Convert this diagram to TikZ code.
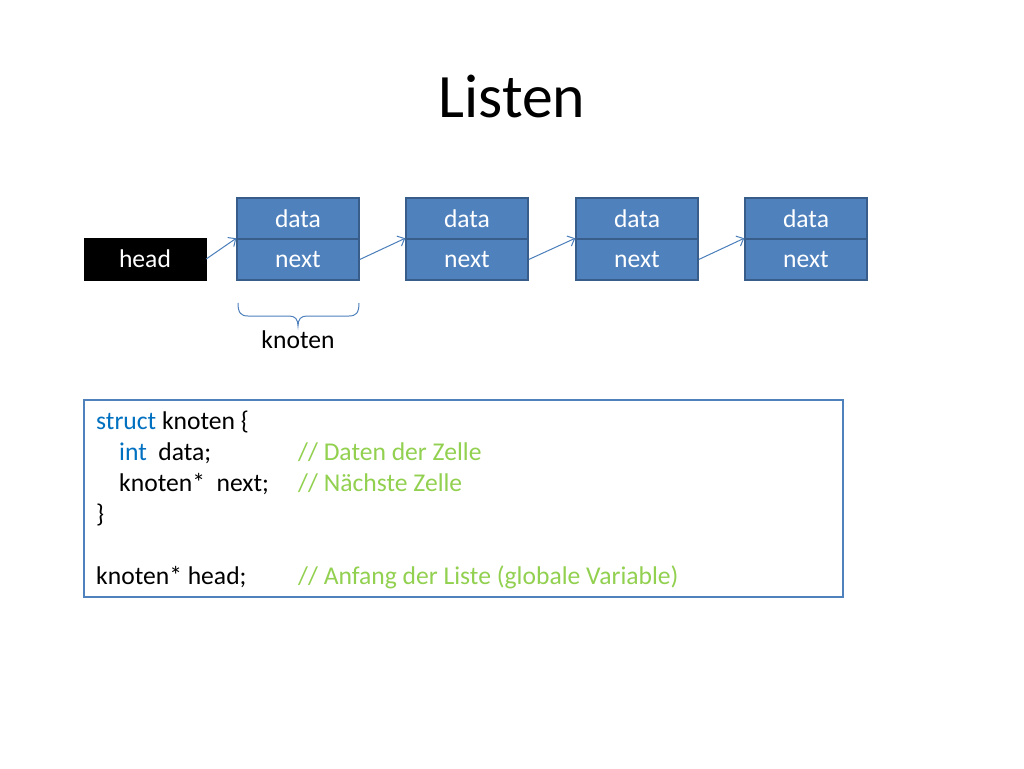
\documentclass[tikz,border=0pt]{standalone}
\usepackage{fontspec}
\setmainfont{Carlito}
\usetikzlibrary{positioning}
\usetikzlibrary{arrows.meta}
\definecolor{cellblue}{HTML}{4F81BD}
\definecolor{celledge}{HTML}{385D8A}
\definecolor{linkblue}{HTML}{4A7EBB}
\definecolor{keyblue}{HTML}{0070C0}
\definecolor{commentgreen}{HTML}{92D050}
\newcommand{\bodyfont}{\fontsize{25.6}{30}\selectfont}
\tikzset{
  cell/.style={draw=celledge, line width=1.5pt, fill=cellblue, text=white,
    minimum width=122pt, minimum height=41pt, inner sep=0pt, font=\bodyfont},
  link/.style={draw=linkblue, line width=1pt, -{Straight Barb[length=6pt,width=11pt]}},
  codeline/.style={anchor=base west, inner sep=0pt, font=\bodyfont}
}

\begin{document}
\begin{tikzpicture}[x=1pt,y=-1pt]
            \fill[white] (0,0) rectangle (1024,768);
            \useasboundingbox (0,0) rectangle (1024,768);
            % Title
            \node[font=\fontsize{61.7}{72}\selectfont, anchor=base] (title) at (512,117) {Listen};
            
            % List cells
            \node[draw=black, fill=black, text=white, minimum width=122pt, minimum height=42pt,
              inner sep=0pt, font=\bodyfont] (head) at (145,259) {head};
            \foreach \x [count=\i] in {298,467,637,806} {
              \node[cell] (d\i) at (\x,218.5) {data};
              \node[cell] (n\i) at (\x,259.5) {next};
            }
            
            \draw[link] (head.east) -- (n1.north west);
            \foreach \i/\j in {1/2,2/3,3/4}
              \draw[link] (n\i.east) -- (n\j.north west);
            
            % Brace under the first cell
            \draw[cellblue, line width=1pt]
              (238,303) .. controls (238,313) and (241,316) .. (248,316) -- (289,316)
              .. controls (295,316) and (298,319) .. (298,326)
              .. controls (298,319) and (301,316) .. (307,316) -- (349,316)
              .. controls (356,316) and (359,313) .. (359,303);
            \node[font=\bodyfont] (label) at (298,340) {knoten};
            
            % Code box
            \node[draw=cellblue, line width=2pt, minimum width=759pt, minimum height=197pt,
              inner sep=0pt] (code) at (463.5,498.5) {};
            \node[codeline] (l1) at (96,429) {\textcolor{keyblue}{struct} knoten \{};
            \node[codeline] (l2) at (119,460) {\textcolor{keyblue}{int}\ \ data;};
            \node[codeline, text=commentgreen] (c2) at (298,460) {// Daten der Zelle};
            \node[codeline] (l3) at (119,491) {knoten*\ \ next;};
            \node[codeline, text=commentgreen] (c3) at (298,491) {// Nächste Zelle};
            \node[codeline] (l4) at (96,522) {\}};
            \node[codeline] (l6) at (96,584) {knoten* head;};
            \node[codeline, text=commentgreen] (c6) at (298,584) {// Anfang der Liste (globale Variable)};
\end{tikzpicture}
\end{document}
